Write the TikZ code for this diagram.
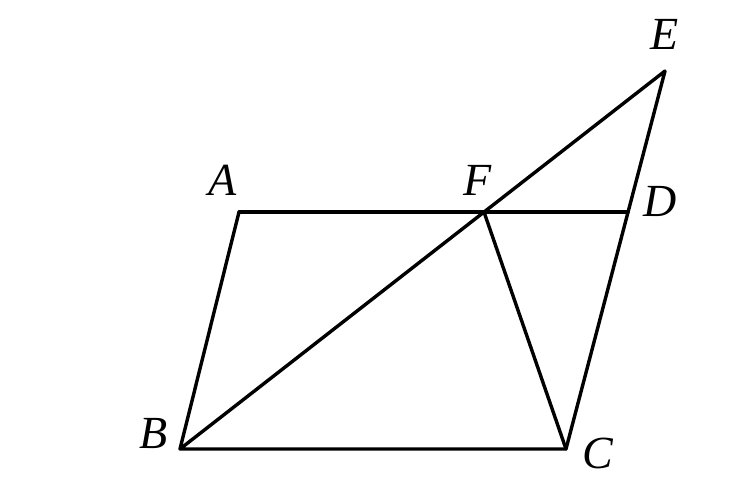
\documentclass[tikz,border=0pt]{standalone}
\usepackage{fontspec}
\setmainfont{Liberation Serif}
\begin{document}
\begin{tikzpicture}[x=1pt,y=-1pt,
  seg/.style={line width=3.4pt,line join=round,line cap=round},
  lbl/.style={font=\fontsize{46}{46}\selectfont\itshape,inner sep=0pt}]
\useasboundingbox (0,0) rectangle (750,500);
\coordinate (A) at (239,212);
\coordinate (D) at (628,212);
\coordinate (B) at (180,449);
\coordinate (C) at (566,449);
\coordinate (E) at (665,71);
\coordinate (F) at (484,212);
\draw[seg] (A) -- (D);
\draw[seg] (A) -- (B) -- (C) -- (E) -- (B);
\draw[seg] (F) -- (C);
\node[lbl] (lA) at (223,180) {A};
\node[lbl] (lF) at (478,180) {F};
\node[lbl] (lD) at (660,201) {D};
\node[lbl] (lE) at (665,34) {E};
\node[lbl] (lB) at (154,434) {B};
\node[lbl] (lC) at (598,453) {C};
\end{tikzpicture}
\end{document}
